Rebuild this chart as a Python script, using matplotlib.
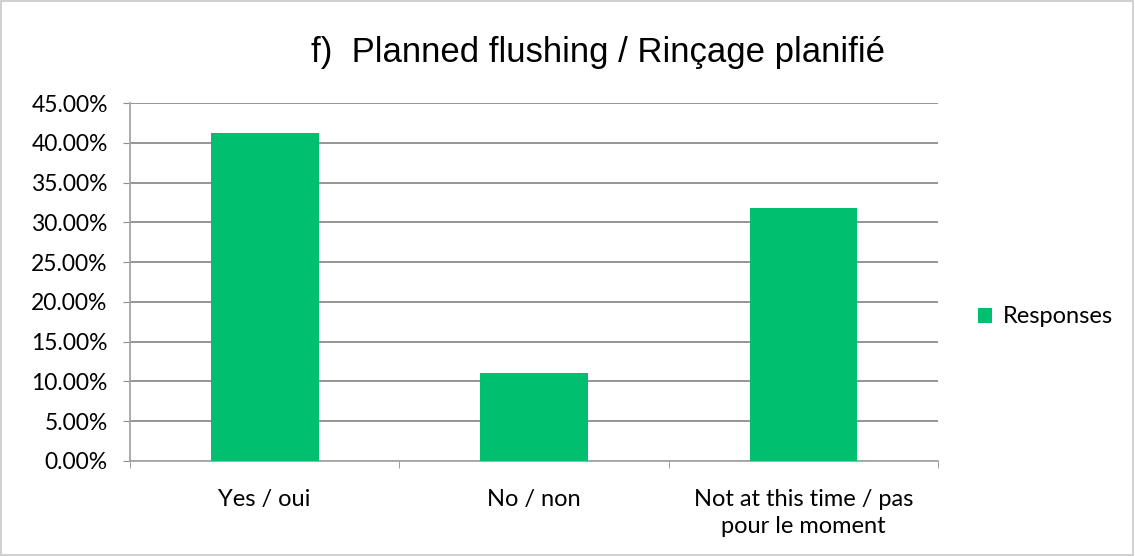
import matplotlib.pyplot as plt
from matplotlib.patches import Rectangle
from matplotlib.ticker import FuncFormatter, FixedLocator

categories = ["Yes / oui", "No / non", "Not at this time / pas\npour le moment"]
responses = [41.27, 11.11, 31.75]
yticks = [0, 5, 10, 15, 20, 25, 30, 35, 40, 45]

plt.rcParams["font.family"] = ["Lato", "DejaVu Sans"]

fig = plt.figure(figsize=(11.35, 5.56), dpi=100)
ax = fig.add_axes([0.1145, 0.1709, 0.712, 0.6438])

x = range(len(categories))
ax.bar(x, responses, width=0.4, color="#00BF6F", label="Responses", zorder=3)

ax.set_xlim(-0.5, len(categories) - 0.5)
ax.set_ylim(0, 45)
ax.set_yticks(yticks)
ax.yaxis.set_major_formatter(FuncFormatter(lambda v, p: f"{v:.2f}%"))
ax.grid(axis="y", color="#8c8c8c", linewidth=1.3, zorder=0)

ax.set_xticks(list(x))
ax.set_xticklabels(categories, linespacing=1.35)
ax.xaxis.set_minor_locator(FixedLocator([-0.5, 0.5, 1.5, 2.5]))
ax.tick_params(axis="x", which="major", length=0, pad=20, labelsize=17)
ax.tick_params(axis="x", which="minor", length=5, color="#8c8c8c", direction="out")
ax.tick_params(axis="y", length=5, color="#8c8c8c", labelsize=16.5, pad=11)

for s in ["top", "right"]:
    ax.spines[s].set_visible(False)
for s in ["left", "bottom"]:
    ax.spines[s].set_color("#a6a6a6")
    ax.spines[s].set_linewidth(1.3)

fig.text(0.527, 0.906, "f)  Planned flushing / Rinçage planifié", ha="center",
         va="center", fontsize=25, family=["Liberation Sans", "DejaVu Sans"])

fig.legend(loc="center left", bbox_to_anchor=(0.843, 0.43), frameon=False,
           fontsize=17, handlelength=0.6, handleheight=0.6, handletextpad=0.45)

fig.patches.append(Rectangle((0.001, 0.001), 0.997, 0.997, transform=fig.transFigure,
                             fill=False, edgecolor="#c8c8c8", linewidth=1.2))

fig.savefig("out.png", dpi=100)
